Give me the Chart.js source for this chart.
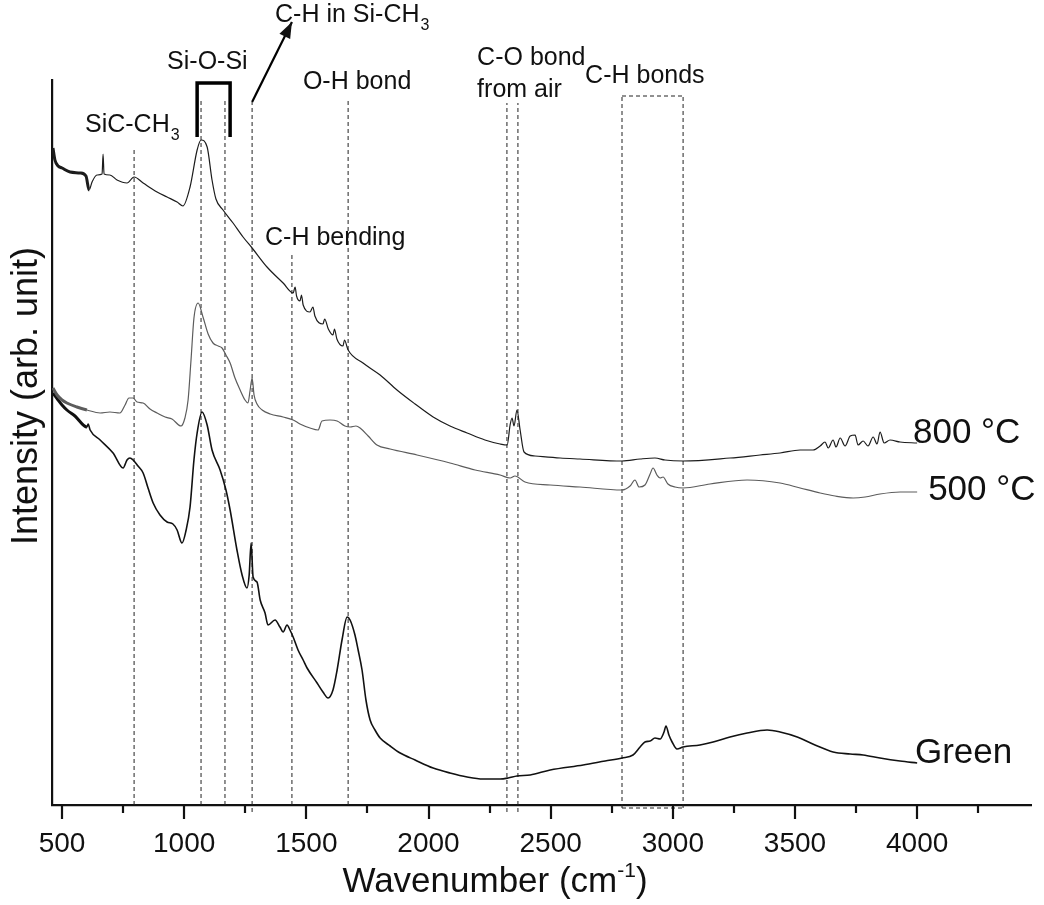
<!DOCTYPE html>
<html lang="en">
<head>
  <meta charset="UTF-8">
  <title>FTIR spectra</title>
  <script src="https://cdn.jsdelivr.net/npm/chart.js"></script>
  <style>
    body { margin: 0; background: #fff; }
  </style>
</head>
<body>
  <canvas id="ftir" width="1044" height="905"></canvas>

  <script>
    // spectra (wavenumber in cm-1, intensity in arb. units)
    const wn800 = [463,471,484,500,533,574,598,611,623,643,664,668,672,696,725,766,795,832,889,930,971,995,1024,1053,1069,1094,1114,1130,1159,1200,1241,1278,1339,1405,1446,1454,1460,1474,1480,1487,1515,1527,1535,1568,1575,1590,1609,1615,1625,1650,1656,1671,1732,1802,1871,1945,2019,2088,2158,2231,2293,2322,2334,2342,2350,2362,2375,2391,2436,2539,2620,2792,2866,2927,2968,3042,3234,3357,3439,3521,3574,3603,3623,3636,3656,3668,3685,3705,3726,3746,3758,3779,3799,3820,3836,3848,3865,3889,3930,4000];
    const int800 = [657,645,639,637,633,632,629,615,623,630,631,651,631,630,625,622,628,622,613,608,603,599,618,655,665,658,625,606,595,582,568,557,538,522,512,518,509,504,510,500,493,498,489,481,486,476,470,476,466,459,465,455,442,430,415,401,388,379,372,365,361,360,380,387,379,395,375,353,349,347,346,344,346,347,345,344,347,350,352,355,355,359,363,357,365,358,367,359,369,370,360,364,359,368,361,373,362,365,363,362];

    const wn500 = [463,480,500,520,561,602,656,696,737,758,774,791,807,832,860,889,922,950,987,1003,1016,1028,1040,1057,1077,1098,1118,1139,1155,1171,1188,1208,1229,1249,1261,1270,1278,1286,1298,1319,1352,1405,1446,1474,1515,1548,1564,1597,1626,1658,1679,1703,1720,1753,1789,1843,1953,2088,2191,2293,2334,2354,2395,2498,2620,2792,2825,2845,2862,2886,2907,2919,2935,2948,2960,2980,3009,3042,3152,3304,3439,3521,3603,3664,3738,3787,3848,3930,4000];
    const int500 = [417,410,405,402,398,395,392,393,392,400,407,407,403,402,396,392,388,386,379,387,405,445,487,502,488,471,462,459,457,450,442,427,415,405,402,415,427,410,401,395,391,388,385,381,377,375,384,385,384,379,378,379,377,369,360,356,350,342,335,330,327,329,323,320,318,315,319,325,318,320,331,337,330,327,328,321,318,317,321,325,322,317,312,309,307,308,311,313,313];

    const wnGreen = [463,484,500,520,553,602,607,615,656,709,750,766,778,791,811,832,852,873,901,930,954,971,991,1008,1024,1040,1053,1073,1094,1114,1147,1171,1188,1216,1237,1257,1266,1274,1282,1298,1311,1331,1343,1372,1392,1405,1421,1433,1446,1466,1487,1503,1544,1568,1589,1609,1626,1646,1667,1679,1699,1712,1728,1744,1761,1781,1802,1843,1884,1945,2019,2088,2158,2223,2293,2326,2362,2416,2498,2633,2723,2792,2837,2866,2886,2907,2927,2948,2964,2972,2984,2997,3017,3042,3111,3165,3234,3304,3386,3439,3509,3582,3656,3726,3779,3848,3930,4000];
    const intGreen = [412,405,400,395,389,378,381,375,365,352,337,345,347,345,339,332,317,302,290,283,281,275,262,275,298,345,372,393,380,355,335,315,295,255,230,217,230,262,228,223,205,192,180,185,178,173,180,175,168,155,145,137,122,113,107,115,135,165,188,185,170,155,135,105,85,75,67,59,52,45,37,32,28,26,26,27,29,30,35,40,44,47,50,58,63,64,67,66,73,79,70,63,56,58,60,63,68,72,75,73,68,60,53,51,50,47,44,42];

    // dashed band markers
    const markerWn = [795,1069,1167,1278,1441,1671,2321,2366,2792,3042];
    const markerTop = [657,707,707,703,552,705,702,702,709,709];
    const markerBottom = [0,0,0,-7,0,0,-7,-7,-3,-3];
    const boxWn = [2792,3042];
    const boxLevels = [709,-3];

    // Si-O-Si bracket and the arrow to C-H in Si-CH3
    const bracketWn = [1053,1053,1188,1188];
    const bracketInt = [668,722,722,668];
    const arrowWn = [1278,1441];
    const arrowInt = [703,783];

    // x axis
    const tickVals = [500,750,1000,1250,1500,1750,2000,2250,2500,2750,3000,3250,3500,3750,4000,4250];
    const tickLabels = ['500','1000','1500','2000','2500','3000','3500','4000'];

    // annotations: text parts, anchor wavenumber (left edge), anchor intensity (middle)
    const noteText = [
      [['SiC-CH'], ['3', 'sub']],
      [['Si-O-Si']],
      [['C-H in Si-CH'], ['3', 'sub']],
      [['O-H bond']],
      [['C-H bending']],
      [['C-O bond']],
      [['from air']],
      [['C-H bonds']]
    ];
    const noteWn = [594, 930, 1372, 1486, 1331, 2199, 2199, 2641];
    const noteInt = [680, 743, 790, 723, 567, 747, 715, 729];

    const seriesNames = ['800 \u00b0C', '500 \u00b0C', 'Green'];
    const seriesLabelWn = [3983, 4045, 3991];
    const seriesLabelInt = [372, 315, 52];

    const FONT = "'Liberation Sans', Arial, sans-serif";

    function pts(xs, ys) {
      return xs.map((v, i) => ({ x: v, y: ys[i] }));
    }

    function spectrum(label, xs, ys, color, width) {
      return {
        label: label,
        data: pts(xs, ys),
        borderColor: color,
        borderWidth: width,
        pointRadius: 0,
        cubicInterpolationMode: 'monotone',
        segment: {
          borderWidth: c => c.p0.parsed.x < 600 ? 3 : width
        },
        order: 1
      };
    }

    function dashed(data) {
      return {
        data: data,
        borderColor: '#222',
        borderWidth: 1,
        borderDash: [4, 3],
        pointRadius: 0,
        clip: false,
        order: 2
      };
    }

    const datasets = [
      spectrum('800 °C', wn800, int800, '#1c1c1c', 1.2),
      spectrum('500 °C', wn500, int500, '#5c5c5c', 1.2),
      spectrum('Green', wnGreen, intGreen, '#111', 1.6)
    ];

    markerWn.forEach((v, i) => {
      datasets.push(dashed([{ x: v, y: markerBottom[i] }, { x: v, y: markerTop[i] }]));
    });
    boxLevels.forEach(lv => {
      datasets.push(dashed(boxWn.map(v => ({ x: v, y: lv }))));
    });

    datasets.push({
      data: pts(bracketWn, bracketInt),
      borderColor: '#000',
      borderWidth: 3.5,
      pointRadius: 0,
      clip: false,
      order: 0
    });
    datasets.push({
      data: pts(arrowWn, arrowInt),
      borderColor: '#000',
      borderWidth: 2.2,
      pointRadius: 0,
      clip: false,
      order: 0
    });

    const decorations = {
      id: 'decorations',
      afterDraw(chart) {
        const ctx = chart.ctx;
        const xs = chart.scales.x;
        const ys = chart.scales.y;
        const base = chart.chartArea.bottom;

        ctx.save();
        ctx.strokeStyle = '#111';
        ctx.fillStyle = '#111';

        // tick marks, long on the labelled ones
        ctx.lineWidth = 2.2;
        tickVals.forEach(v => {
          const px = Math.round(xs.getPixelForValue(v));
          const len = v % 500 === 0 ? 14 : 8;
          ctx.beginPath();
          ctx.moveTo(px, base);
          ctx.lineTo(px, base + len);
          ctx.stroke();
        });

        // arrow head
        const x0 = xs.getPixelForValue(arrowWn[0]), y0 = ys.getPixelForValue(arrowInt[0]);
        const x1 = xs.getPixelForValue(arrowWn[1]), y1 = ys.getPixelForValue(arrowInt[1]);
        const a = Math.atan2(y1 - y0, x1 - x0);
        const hl = 16, hw = 6;
        ctx.beginPath();
        ctx.moveTo(x1, y1);
        ctx.lineTo(x1 - hl * Math.cos(a) + hw * Math.sin(a), y1 - hl * Math.sin(a) - hw * Math.cos(a));
        ctx.lineTo(x1 - hl * Math.cos(a) - hw * Math.sin(a), y1 - hl * Math.sin(a) + hw * Math.cos(a));
        ctx.closePath();
        ctx.fill();

        // annotations
        ctx.textBaseline = 'middle';
        ctx.textAlign = 'left';
        const size = 25;
        noteText.forEach((parts, i) => {
          let cx = xs.getPixelForValue(noteWn[i]);
          const cy = ys.getPixelForValue(noteInt[i]);
          parts.forEach(p => {
            if (p[1] === 'sub') {
              ctx.font = (size * 0.64) + 'px ' + FONT;
              ctx.fillText(p[0], cx + 1, cy + size * 0.42);
              cx += ctx.measureText(p[0]).width + 1;
            } else {
              ctx.font = size + 'px ' + FONT;
              ctx.fillText(p[0], cx, cy);
              cx += ctx.measureText(p[0]).width;
            }
          });
        });

        // series names at the end of each trace
        ctx.font = '35px ' + FONT;
        seriesNames.forEach((s, i) => {
          ctx.fillText(s, xs.getPixelForValue(seriesLabelWn[i]), ys.getPixelForValue(seriesLabelInt[i]));
        });

        // x title with superscript
        const tsize = 35;
        ctx.font = tsize + 'px ' + FONT;
        const t1 = 'Wavenumber (cm', t2 = '-1', t3 = ')';
        const w1 = ctx.measureText(t1).width;
        const w3 = ctx.measureText(t3).width;
        ctx.font = (tsize * 0.6) + 'px ' + FONT;
        const w2 = ctx.measureText(t2).width;
        let tx = 495 - (w1 + w2 + w3) / 2;
        const ty = 882;
        ctx.font = tsize + 'px ' + FONT;
        ctx.fillText(t1, tx, ty);
        tx += w1;
        ctx.font = (tsize * 0.6) + 'px ' + FONT;
        ctx.fillText(t2, tx, ty - tsize * 0.32);
        tx += w2;
        ctx.font = tsize + 'px ' + FONT;
        ctx.fillText(t3, tx, ty);

        // y title
        ctx.translate(27, 396);
        ctx.rotate(-Math.PI / 2);
        ctx.textAlign = 'center';
        ctx.font = '36px ' + FONT;
        ctx.fillText('Intensity (arb. unit)', 0, 0);

        ctx.restore();
      }
    };

    new Chart(document.getElementById('ftir').getContext('2d'), {
      type: 'line',
      data: { datasets: datasets },
      options: {
        responsive: false,
        animation: false,
        layout: { padding: { top: 80, right: 13, left: 0, bottom: 0 } },
        plugins: {
          legend: { display: false },
          tooltip: { enabled: false }
        },
        scales: {
          x: {
            type: 'linear',
            min: 459,
            max: 4466,
            afterBuildTicks: s => { s.ticks = tickVals.map(v => ({ value: v })); },
            afterFit: s => { s.height = 100; },
            grid: { display: false, drawTicks: false },
            border: { display: true, color: '#111', width: 2.2 },
            ticks: {
              autoSkip: false,
              maxRotation: 0,
              padding: 22,
              color: '#111',
              font: { family: FONT, size: 28 },
              callback: v => tickLabels.includes(String(v)) ? String(v) : ''
            }
          },
          y: {
            min: 0,
            max: 725,
            afterFit: s => { s.width = 52; },
            grid: { display: false, drawTicks: false },
            border: { display: true, color: '#111', width: 2.2 },
            ticks: { display: false }
          }
        }
      },
      plugins: [decorations]
    });
  </script>
</body>
</html>
